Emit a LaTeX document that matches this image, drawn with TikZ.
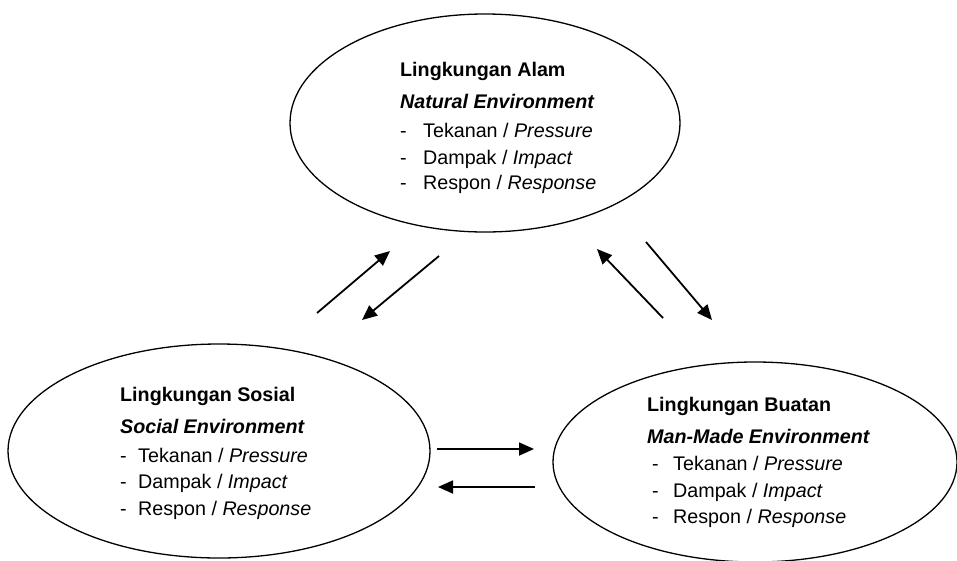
\documentclass[tikz,border=0pt]{standalone}
\usepackage{fontspec}
\setmainfont{Liberation Sans}
\usetikzlibrary{shapes.geometric,arrows.meta}
\begin{document}
\begin{tikzpicture}[x=1pt,y=-1pt,
  env/.style={draw, ellipse, line width=1.3pt, inner sep=0pt},
  txt/.style={anchor=base west, inner sep=0pt, font=\fontsize{19.7}{24}\selectfont},
  flow/.style={line width=1.8pt, -{Triangle[length=15pt,width=13pt]}}]
\useasboundingbox (0,0) rectangle (957,560);
% ellipses
\node[env, minimum width=390pt, minimum height=218pt] (alam) at (485,123) {};
\node[env, minimum width=422pt, minimum height=214pt] (sosial) at (219,451) {};
\node[env, minimum width=404pt, minimum height=200pt] (buatan) at (755,462) {};
% top text
\node[txt] (a1) at (400,76) {\textbf{Lingkungan Alam}};
\node[txt] (a2) at (400,108) {\textbf{\textit{Natural Environment}}};
\node[txt] (a3) at (400,137) {\makebox[23pt][l]{-}Tekanan / \textit{Pressure}};
\node[txt] (a4) at (400,164) {\makebox[23pt][l]{-}Dampak / \textit{Impact}};
\node[txt] (a5) at (400,189) {\makebox[23pt][l]{-}Respon / \textit{Response}};
% left text
\node[txt] (s1) at (120,401) {\textbf{Lingkungan Sosial}};
\node[txt] (s2) at (120,433) {\textbf{\textit{Social Environment}}};
\node[txt] (s3) at (120,462) {\makebox[18pt][l]{-}Tekanan / \textit{Pressure}};
\node[txt] (s4) at (120,488) {\makebox[18pt][l]{-}Dampak / \textit{Impact}};
\node[txt] (s5) at (120,515) {\makebox[18pt][l]{-}Respon / \textit{Response}};
% right text
\node[txt] (b1) at (647,411) {\textbf{Lingkungan Buatan}};
\node[txt] (b2) at (647,443) {\textbf{\textit{Man-Made Environment}}};
\node[txt] (b3) at (652,470) {\makebox[21pt][l]{-}Tekanan / \textit{Pressure}};
\node[txt] (b4) at (652,497) {\makebox[21pt][l]{-}Dampak / \textit{Impact}};
\node[txt] (b5) at (652,523) {\makebox[21pt][l]{-}Respon / \textit{Response}};
% arrow end points
\coordinate (p1s) at (317,313); \coordinate (p1e) at (390,251);
\coordinate (p2s) at (439,256); \coordinate (p2e) at (362,320);
\coordinate (p3s) at (663,318); \coordinate (p3e) at (597,249);
\coordinate (p4s) at (646,242); \coordinate (p4e) at (712,320);
\coordinate (p5s) at (437,449); \coordinate (p5e) at (534,449);
\coordinate (p6s) at (535,487); \coordinate (p6e) at (438,487);
\draw[flow] (p1s) -- (p1e);
\draw[flow] (p2s) -- (p2e);
\draw[flow] (p3s) -- (p3e);
\draw[flow] (p4s) -- (p4e);
\draw[flow] (p5s) -- (p5e);
\draw[flow] (p6s) -- (p6e);
\end{tikzpicture}
\end{document}
